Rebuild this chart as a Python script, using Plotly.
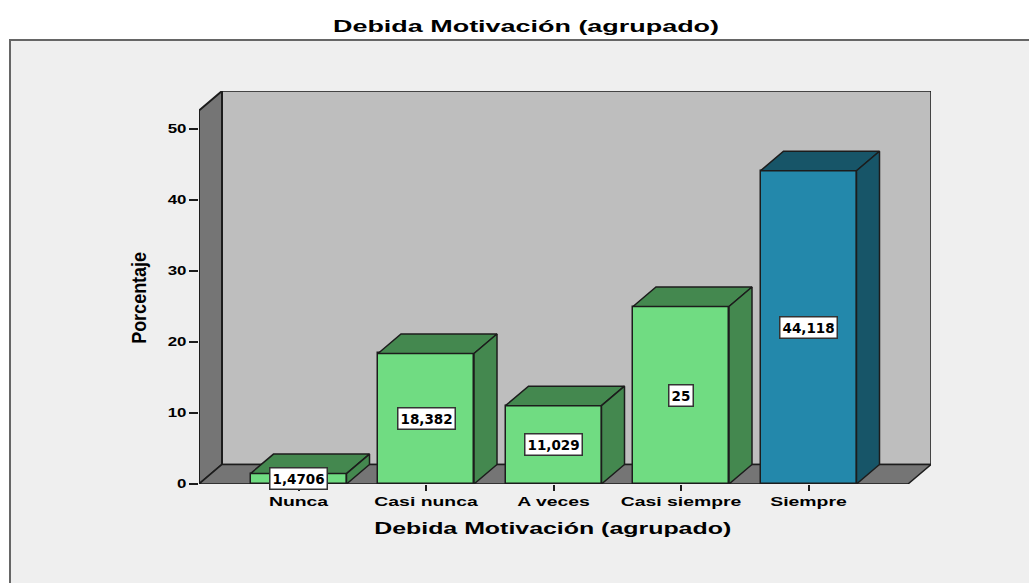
"""Debida Motivación (agrupado): SPSS style 3D bars drawn on a flat cartesian plot."""

import plotly.graph_objects as go

categorias = ["Nunca", "Casi nunca", "A veces", "Casi siempre", "Siempre"]
porcentajes = [1.4706, 18.382, 11.029, 25, 44.118]
etiquetas = ["1,4706", "18,382", "11,029", "25", "44,118"]
y_ticks = [0, 10, 20, 30, 40, 50]
TITULO = "Debida Motivación (agrupado)"

W, H = 1029, 583
L, R, T, B = 199, 931, 91, 484   # plot box in px, front floor corner to back wall corner
PX_X = 127.5                     # px per category
PX_Y = 7.1                       # px per percent
DX = 23 / PX_X                   # depth offset in data units
DY = 19.5 / PX_Y
BAR_W = 96 / PX_X

X0 = (L - 298.5) / PX_X
X1 = X0 + (R - L) / PX_X
Y1 = (B - T) / PX_Y
FRONT_X1 = X1 - DX
FRONT_Y1 = Y1 - DY

VERDE, VERDE_OSC = "#70DC82", "#44884F"
AZUL, AZUL_OSC = "#2388AB", "#175568"
GRIS_PARED, GRIS_FONDO, PANEL = "#757575", "#BEBEBE", "#EFEFEF"
BORDE = "#1c1c1c"
FONT = "DejaVu Sans"
FONT_ARIAL = "Liberation Sans"


def poly(xs, ys):
    return "M" + " L".join(f"{x},{y}" for x, y in zip(xs, ys)) + " Z"


def px_x(p):
    return (p - L) / (R - L)


def px_y(p):
    return (B - p) / (B - T)


colores = [AZUL if c == "Siempre" else VERDE for c in categorias]
oscuros = [AZUL_OSC if c == "Siempre" else VERDE_OSC for c in categorias]
xs = list(range(len(categorias)))

fig = go.Figure()

# front faces
fig.add_trace(go.Bar(
    x=xs, y=porcentajes, width=BAR_W,
    marker=dict(color=colores, line=dict(color=BORDE, width=1.5)),
    hoverinfo="skip", showlegend=False,
))

# top and side faces
for x, v, osc in zip(xs, porcentajes, oscuros):
    a, b = x - BAR_W / 2, x + BAR_W / 2
    fig.add_trace(go.Scatter(
        x=[a, b, b + DX, a + DX, a], y=[v, v, v + DY, v + DY, v],
        mode="lines", fill="toself", fillcolor=osc,
        line=dict(color=BORDE, width=1.5), hoverinfo="skip", showlegend=False,
    ))
    fig.add_trace(go.Scatter(
        x=[b, b + DX, b + DX, b, b], y=[0, DY, v + DY, v, 0],
        mode="lines", fill="toself", fillcolor=osc,
        line=dict(color=BORDE, width=1.5), hoverinfo="skip", showlegend=False,
    ))

shapes = [
    # grey panel behind everything, open to the right and bottom of the page
    dict(type="rect", xref="paper", yref="paper", layer="below",
         x0=px_x(10), x1=px_x(W + 10), y0=px_y(H + 10), y1=px_y(40),
         fillcolor=PANEL, line=dict(color="#666666", width=2)),
    # back wall
    dict(type="rect", xref="x", yref="y", layer="below",
         x0=X0 + DX, x1=X1, y0=DY, y1=Y1,
         fillcolor=GRIS_FONDO, line=dict(color=BORDE, width=1.5)),
    # left wall
    dict(type="path", xref="x", yref="y", layer="below",
         path=poly([X0, X0 + DX, X0 + DX, X0], [0, DY, Y1, FRONT_Y1]),
         fillcolor=GRIS_PARED, line=dict(color=BORDE, width=2)),
    # floor
    dict(type="path", xref="x", yref="y", layer="below",
         path=poly([X0, FRONT_X1, X1, X0 + DX], [0, 0, DY, DY]),
         fillcolor=GRIS_PARED, line=dict(color=BORDE, width=1.5)),
]

annotations = [
    dict(x=x, y=v / 2, text=f"<b>{t}</b>", showarrow=False,
         font=dict(family=FONT, size=13.5, color="#000000"),
         bgcolor="#FFFFFF", bordercolor="#333333", borderwidth=1.5, borderpad=2)
    for x, v, t in zip(xs, porcentajes, etiquetas)
]
# axis titles sit off the plot centre in the original, so they are annotations here
annotations += [
    dict(xref="paper", yref="paper", x=px_x(552.5), y=px_y(528), text=TITULO,
         xanchor="center", yanchor="middle", showarrow=False,
         font=dict(family=FONT_ARIAL, size=16, color="#000000", weight="bold")),
    dict(xref="paper", yref="paper", x=px_x(139), y=px_y(298), text="Porcentaje", textangle=-90,
         xanchor="center", yanchor="middle", showarrow=False,
         font=dict(family=FONT_ARIAL, size=20, color="#000000", weight="bold")),
]

fig.update_layout(
    width=W, height=H,
    margin=dict(l=L, r=W - R, t=T, b=H - B, pad=0),
    paper_bgcolor="#FFFFFF", plot_bgcolor="rgba(0,0,0,0)",
    title=dict(text=TITULO, x=526 / W, xanchor="center",
               y=1 - 26 / H, yanchor="middle",
               font=dict(family=FONT_ARIAL, size=16, color="#000000", weight="bold")),
    shapes=shapes, annotations=annotations, showlegend=False, bargap=0,
)
fig.update_xaxes(
    range=[X0, X1], tickmode="array", tickvals=xs, ticktext=categorias,
    ticks="outside", ticklen=6, tickwidth=1.5, tickcolor=BORDE,
    tickfont=dict(family=FONT_ARIAL, size=12.5, color="#000000", weight="bold"),
    showgrid=False, zeroline=False, showline=False,
)
fig.update_yaxes(
    range=[0, Y1], tickmode="array", tickvals=y_ticks,
    ticks="outside", ticklen=9, tickwidth=1.5, tickcolor=BORDE,
    tickfont=dict(family=FONT_ARIAL, size=12.5, color="#000000", weight="bold"),
    showgrid=False, zeroline=False, showline=False,
)

# the original image was stretched sideways, so the text is fitted to its measured width
post = """
document.body.style.margin = '0';
function fit(t, w) {
  t.setAttribute('textLength', w);
  t.setAttribute('lengthAdjust', 'spacingAndGlyphs');
}
document.querySelectorAll('.gtitle').forEach(function (t) { fit(t, 386); });
document.querySelectorAll('.xtick text').forEach(function (t) { fit(t, t.getComputedTextLength() * 1.55); });
document.querySelectorAll('.ytick text').forEach(function (t) { fit(t, t.getComputedTextLength() * 1.35); });
document.querySelectorAll('.annotation-text').forEach(function (t) {
  if (t.textContent === 'Porcentaje') fit(t, 92);
  if (t.textContent.indexOf('Debida') === 0) fit(t, 357);
});
"""

fig.write_html("out.html", config=dict(displayModeBar=False), post_script=post)
